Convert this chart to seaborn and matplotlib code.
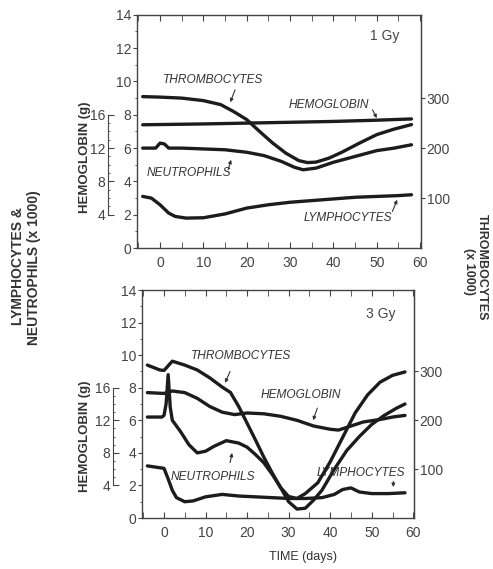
import matplotlib
matplotlib.use("Agg")
import matplotlib.pyplot as plt
from matplotlib.ticker import MultipleLocator, FixedLocator
import seaborn as sns

# ---- 1 Gy panel ----
thr1_days = [-4, 0, 5, 10, 14, 17, 20, 23, 26, 29, 32, 34, 36, 39, 42, 46, 50, 54, 58]
thr1_vals = [303, 302, 300, 295, 287, 273, 257, 233, 210, 190, 175, 171, 172, 180, 192, 210, 227, 238, 247]

hb1_days = [-4, 10, 20, 30, 40, 50, 58]
hb1_vals = [14.8, 14.9, 15.0, 15.1, 15.2, 15.35, 15.5]

neu1_days = [-4, -1, 0, 1, 2, 5, 10, 15, 20, 24, 28, 31, 33, 36, 40, 45, 50, 54, 58]
neu1_vals = [6.0, 6.0, 6.3, 6.25, 6.0, 6.0, 5.95, 5.9, 5.75, 5.55, 5.2, 4.85, 4.7, 4.8, 5.15, 5.5, 5.85, 6.0, 6.2]

lym1_days = [-4, -2, 0, 2, 3.5, 6, 10, 15, 20, 25, 30, 35, 40, 45, 50, 55, 58]
lym1_vals = [3.1, 3.0, 2.6, 2.1, 1.9, 1.8, 1.82, 2.05, 2.4, 2.6, 2.75, 2.85, 2.95, 3.05, 3.1, 3.15, 3.2]

# ---- 3 Gy panel ----
thr3_days = [-4, -1, 0, 2, 5, 8, 11, 14, 16, 18, 20, 22, 24, 26, 28, 30, 32, 34, 37, 40, 43, 46, 49, 52, 55, 58]
thr3_vals = [313, 303, 302, 321, 313, 303, 287, 268, 257, 228, 194, 160, 125, 93, 63, 44, 40, 50, 72, 115, 165, 215, 252, 278, 292, 299]

hb3_days = [-4, 0, 2, 5, 8, 11, 14, 17, 20, 24, 28, 32, 36, 40, 42, 45, 48, 52, 55, 58]
hb3_vals = [15.4, 15.3, 15.6, 15.4, 14.7, 13.7, 13.0, 12.7, 12.9, 12.8, 12.5, 12.0, 11.3, 10.9, 10.8, 11.3, 11.8, 12.1, 12.4, 12.6]

neu3_days = [-4, -0.5, 0, 0.5, 1, 1.5, 2, 4, 6, 8, 10, 12, 15, 18, 20, 22, 24, 26, 28, 30, 32, 34, 36, 38, 41, 44, 47, 50, 53, 56, 58]
neu3_vals = [6.2, 6.2, 6.3, 7.0, 8.8, 6.8, 6.0, 5.3, 4.5, 4.0, 4.1, 4.4, 4.75, 4.6, 4.35, 3.9, 3.4, 2.7, 1.9, 1.0, 0.55, 0.6, 1.1, 1.7, 3.0, 4.15, 5.0, 5.75, 6.3, 6.75, 7.0]

lym3_days = [-4, 0, 1, 2, 3, 5, 7, 10, 14, 18, 22, 26, 30, 34, 38, 41, 43, 45, 47, 50, 54, 58]
lym3_vals = [3.2, 3.05, 2.4, 1.7, 1.25, 1.0, 1.05, 1.3, 1.45, 1.35, 1.3, 1.25, 1.2, 1.2, 1.25, 1.45, 1.75, 1.85, 1.6, 1.5, 1.5, 1.55]

left_ticks = [0, 2, 4, 6, 8, 10, 12, 14]
thr_ticks = [100, 200, 300]
hb_ticks = [4, 8, 12, 16]
day_ticks = [0, 10, 20, 30, 40, 50, 60]

sns.set_style("ticks")
plt.rcParams['font.family'] = ['Liberation Sans', 'DejaVu Sans']

INK = "#1c1c1c"
GREY = "#444444"
LW = 2.4

fig = plt.figure(figsize=(4.93, 5.69), dpi=100)
fig.patch.set_facecolor("white")


def make_panel(rect, dose, thr_d, thr_v, hb_d, hb_v, neu_d, neu_v, lym_d, lym_v, labels):
    ax = fig.add_axes(rect)
    ax_t = ax.twinx()
    ax_h = ax.twinx()

    sns.lineplot(x=neu_d, y=neu_v, ax=ax, color=INK, lw=LW)
    sns.lineplot(x=lym_d, y=lym_v, ax=ax, color=INK, lw=LW)
    sns.lineplot(x=thr_d, y=thr_v, ax=ax_t, color=INK, lw=LW)
    sns.lineplot(x=hb_d, y=hb_v, ax=ax_h, color=INK, lw=LW)

    # main axis (lymphocytes & neutrophils)
    ax.set_xlim(-5.3, 60.2)
    ax.set_ylim(0, 14)
    ax.set_xticks(day_ticks)
    ax.xaxis.set_minor_locator(MultipleLocator(5))
    ax.set_yticks(left_ticks)
    ax.yaxis.set_minor_locator(MultipleLocator(1))
    ax.tick_params(axis="x", which="both", direction="in", top=True, length=4,
                   labelsize=10, colors=GREY, pad=6)
    ax.tick_params(axis="y", which="major", direction="out", length=3,
                   labelsize=10, colors=GREY, pad=1)
    ax.tick_params(axis="y", which="minor", direction="out", length=1.5, colors=GREY)
    for s in ax.spines.values():
        s.set_color(GREY)
        s.set_linewidth(1.0)
    ax.set_xlabel("")
    ax.set_ylabel("")

    # thrombocyte axis on the right
    ax_t.set_ylim(0, 14 * 100 / 3)
    ax_t.set_yticks(thr_ticks)
    ax_t.tick_params(axis="y", direction="out", length=3, labelsize=10, colors=GREY, pad=1)
    for k in ["top", "bottom", "left"]:
        ax_t.spines[k].set_visible(False)
    ax_t.spines["right"].set_color(GREY)
    ax_t.set_ylabel("")

    # hemoglobin axis, offset on the left, only 4-16 g
    ax_h.set_ylim(0, 28)
    ax_h.yaxis.tick_left()
    ax_h.set_yticks(hb_ticks)
    ax_h.yaxis.set_minor_locator(FixedLocator(list(range(4, 17))))
    ax_h.tick_params(axis="y", which="major", direction="in", length=4,
                     labelsize=10, colors=GREY, pad=2)
    ax_h.tick_params(axis="y", which="minor", direction="in", length=1.5, colors=GREY)
    for k in ["top", "bottom", "right"]:
        ax_h.spines[k].set_visible(False)
    ax_h.spines["left"].set_visible(True)
    ax_h.spines["left"].set_position(("outward", 21))
    ax_h.spines["left"].set_bounds(4, 16)
    ax_h.spines["left"].set_color(GREY)
    ax_h.set_ylabel("")

    ax.text(dose[1], dose[2], dose[0], fontsize=10, color=GREY)
    for txt, (tx, ty), (ax0, ay0), (ax1, ay1) in labels:
        ax.text(tx, ty, txt, fontsize=8.6, style="italic", color="#333333",
                ha="center", va="center")
        ax.annotate("", xy=(ax1, ay1), xytext=(ax0, ay0),
                    arrowprops=dict(arrowstyle="-|>", color="#333333", lw=0.8,
                                    mutation_scale=5, shrinkA=0, shrinkB=0))
    return ax


top_labels = [
    ("THROMBOCYTES", (12.2, 10.1), (17.3, 9.5), (16.2, 8.75)),
    ("HEMOGLOBIN", (39.0, 8.6), (49.0, 8.3), (50.0, 7.8)),
    ("NEUTROPHILS", (6.7, 4.5), (15.7, 4.7), (16.4, 5.3)),
    ("LYMPHOCYTES", (43.4, 1.8), (53.6, 2.2), (54.7, 2.9)),
]
bottom_labels = [
    ("THROMBOCYTES", (18.6, 9.95), (15.9, 9.0), (14.7, 8.3)),
    ("HEMOGLOBIN", (33.0, 7.55), (36.9, 6.75), (35.9, 6.0)),
    ("NEUTROPHILS", (11.8, 2.5), (15.9, 3.4), (16.4, 4.0)),
    ("LYMPHOCYTES", (47.5, 2.76), (55.2, 2.25), (55.2, 1.9)),
]

make_panel([0.278, 0.564, 0.576, 0.410], ("1 Gy", 48.5, 12.5),
           thr1_days, thr1_vals, hb1_days, hb1_vals,
           neu1_days, neu1_vals, lym1_days, lym1_vals, top_labels)
make_panel([0.288, 0.0896, 0.552, 0.4007], ("3 Gy", 48.5, 12.3),
           thr3_days, thr3_vals, hb3_days, hb3_vals,
           neu3_days, neu3_vals, lym3_days, lym3_vals, bottom_labels)

# outer axis titles
fig.text(0.036, 0.533, "LYMPHOCYTES &", rotation=90, ha="center", va="center",
         fontsize=10, fontweight="bold", color="#333333")
fig.text(0.068, 0.530, "NEUTROPHILS (x 1000)", rotation=90, ha="center", va="center",
         fontsize=10, fontweight="bold", color="#333333")
fig.text(0.172, 0.724, "HEMOGLOBIN (g)", rotation=90, ha="center", va="center",
         fontsize=9.5, fontweight="bold", color="#333333")
fig.text(0.172, 0.234, "HEMOGLOBIN (g)", rotation=90, ha="center", va="center",
         fontsize=9.5, fontweight="bold", color="#333333")
fig.text(0.978, 0.531, "THROMBOCYTES", rotation=-90, ha="center", va="center",
         fontsize=9, fontweight="bold", color="#333333")
fig.text(0.952, 0.522, "(x 1000)", rotation=-90, ha="center", va="center",
         fontsize=9, fontweight="bold", color="#333333")
fig.text(0.615, 0.021, "TIME (days)", ha="center", va="center",
         fontsize=9, color="#333333")

fig.savefig("out.png", dpi=100, facecolor="white")
